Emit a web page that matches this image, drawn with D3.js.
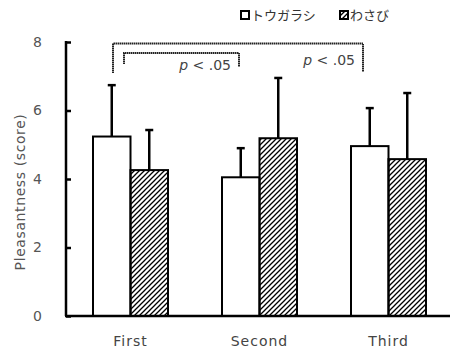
<!DOCTYPE html>
<html>
<head>
<meta charset="utf-8">
<script src="https://cdn.jsdelivr.net/npm/d3@7"></script>
<style>
  body { margin: 0; background: #fff; }
  svg { display: block; font-family: "DejaVu Sans", "Noto Sans CJK JP", sans-serif; }
</style>
</head>
<body>
<div id="chart"></div>
<script>
// Data
const sessions = ["First", "Second", "Third"];
const seriesNames = ["トウガラシ", "わさび"];
const meanChili = [5.24, 4.05, 4.96];
const meanWasabi = [4.26, 5.19, 4.58];
const sdChili = [1.50, 0.85, 1.11];
const sdWasabi = [1.17, 1.76, 1.93];
const yTicks = [0, 2, 4, 6, 8];
const sigLabel = " < .05";

// Dimensions
const width = 450;
const height = 351;

const svg = d3.select("#chart").append("svg")
    .attr("width", width)
    .attr("height", height);

// Hatch pattern for わさび
svg.append("defs").append("pattern")
    .attr("id", "hatch")
    .attr("patternUnits", "userSpaceOnUse")
    .attr("width", 5)
    .attr("height", 5)
  .append("path")
    .attr("d", "M-1,1 l2,-2 M0,5 l5,-5 M4,6 l2,-2")
    .attr("stroke", "#000")
    .attr("stroke-width", 1.3);

// Scales
const x = d3.scaleBand()
    .domain(sessions)
    .range([66, 453]);

const sub = d3.scaleBand()
    .domain(seriesNames)
    .range([-37.5, 37.5]);

const y = d3.scaleLinear()
    .domain([0, 8])
    .range([316, 42]);

const rows = sessions.map((s, i) => [
    {session: s, series: seriesNames[0], mean: meanChili[i], sd: sdChili[i]},
    {session: s, series: seriesNames[1], mean: meanWasabi[i], sd: sdWasabi[i]}
]).flat();

const barX = d => x(d.session) + x.bandwidth() / 2 + sub(d.series);

// Error bars (upper only)
const err = svg.append("g");
err.selectAll("line.stem")
    .data(rows)
    .join("line")
    .attr("x1", d => barX(d) + sub.bandwidth() / 2)
    .attr("x2", d => barX(d) + sub.bandwidth() / 2)
    .attr("y1", d => y(d.mean))
    .attr("y2", d => y(d.mean + d.sd))
    .attr("stroke", "#000")
    .attr("stroke-width", 2.5);
err.selectAll("line.cap")
    .data(rows)
    .join("line")
    .attr("x1", d => barX(d) + sub.bandwidth() / 2 - 4)
    .attr("x2", d => barX(d) + sub.bandwidth() / 2 + 4)
    .attr("y1", d => y(d.mean + d.sd))
    .attr("y2", d => y(d.mean + d.sd))
    .attr("stroke", "#000")
    .attr("stroke-width", 2.5);

// Bars
svg.append("g").selectAll("rect")
    .data(rows)
    .join("rect")
    .attr("x", barX)
    .attr("y", d => y(d.mean))
    .attr("width", sub.bandwidth())
    .attr("height", d => y(0) - y(d.mean))
    .attr("fill", d => d.series === seriesNames[0] ? "#fff" : "url(#hatch)")
    .attr("stroke", "#000")
    .attr("stroke-width", 2);

// Y axis
const yAxis = svg.append("g")
    .attr("transform", "translate(66,0)")
    .call(d3.axisRight(y).tickValues(yTicks).tickSize(5).tickFormat(""));
yAxis.select(".domain").remove();
yAxis.selectAll(".tick line").attr("stroke", "#000").attr("stroke-width", 2.5);
svg.append("line")
    .attr("x1", 66).attr("x2", 66)
    .attr("y1", y(8) - 1).attr("y2", y(0))
    .attr("stroke", "#000").attr("stroke-width", 2.5);

svg.append("g").selectAll("text")
    .data(yTicks)
    .join("text")
    .attr("x", 42)
    .attr("y", d => y(d))
    .attr("dy", "0.35em")
    .attr("text-anchor", "end")
    .attr("font-size", 14)
    .attr("fill", "#555")
    .text(d => d);

// X axis
svg.append("line")
    .attr("x1", 65).attr("x2", width)
    .attr("y1", y(0)).attr("y2", y(0))
    .attr("stroke", "#000").attr("stroke-width", 2.5);

svg.append("g").selectAll("text")
    .data(sessions)
    .join("text")
    .attr("x", d => x(d) + x.bandwidth() / 2)
    .attr("y", 346)
    .attr("text-anchor", "middle")
    .attr("font-size", 14)
    .attr("letter-spacing", 1)
    .attr("fill", "#444")
    .text(d => d);

// Y label
svg.append("text")
    .attr("transform", `translate(25,192) rotate(-90)`)
    .attr("text-anchor", "middle")
    .attr("font-size", 14)
    .attr("letter-spacing", 0.6)
    .attr("fill", "#555")
    .text("Pleasantness (score)");

// Significance brackets
const brackets = [
    {x1: x("First") + 58, x2: x("Second") + 44, top: 53, left: 64, right: 67, tx: x("Second") + 36, ty: 70},
    {x1: x("First") + 47, x2: x("Third") + 39, top: 43.5, left: 73, right: 72, tx: x("Third") + 31, ty: 65}
];
const br = svg.append("g");
br.selectAll("path")
    .data(brackets)
    .join("path")
    .attr("d", d => `M${d.x1},${d.left} V${d.top} H${d.x2} V${d.right}`)
    .attr("fill", "none")
    .attr("stroke", "#222")
    .attr("stroke-width", 2)
    .attr("stroke-dasharray", "1.5,0.5");
const bt = br.selectAll("text")
    .data(brackets)
    .join("text")
    .attr("x", d => d.tx)
    .attr("y", d => d.ty)
    .attr("text-anchor", "end")
    .attr("font-size", 14)
    .attr("fill", "#444");
bt.append("tspan").attr("font-style", "italic").text("p");
bt.append("tspan").text(sigLabel);

// Legend
const legend = svg.append("g").selectAll("g")
    .data(seriesNames)
    .join("g")
    .attr("transform", (d, i) => `translate(${241 + i * 99},11)`);
legend.append("rect")
    .attr("width", 8)
    .attr("height", 8)
    .attr("fill", (d, i) => i === 0 ? "#fff" : "url(#hatch)")
    .attr("stroke", "#000")
    .attr("stroke-width", 2);
legend.append("text")
    .attr("x", 10)
    .attr("y", 4)
    .attr("dy", "0.38em")
    .attr("font-size", 13)
    .attr("fill", "#333")
    .text(d => d);
</script>
</body>
</html>
